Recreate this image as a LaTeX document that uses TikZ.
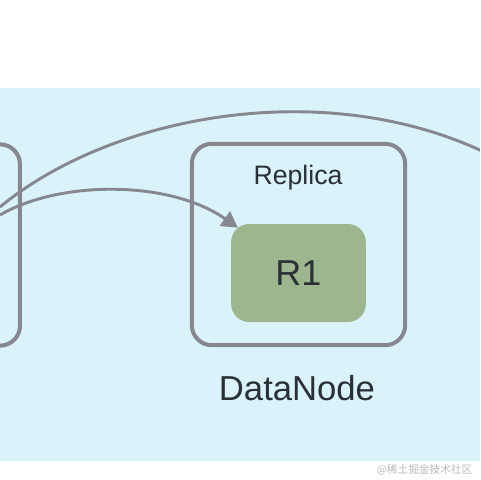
\documentclass[tikz,border=0pt]{standalone}
\usepackage{fontspec}
\setmainfont{Liberation Sans}
\newfontfamily\cjk{Noto Sans CJK SC}
\usetikzlibrary{arrows.meta}
\definecolor{panelblue}{HTML}{DAF3FA}
\definecolor{edgegray}{HTML}{86878F}
\definecolor{replgreen}{HTML}{9EB68D}
\definecolor{inkdark}{HTML}{2A3035}

\begin{document}
\begin{tikzpicture}[x=0.75pt, y=-0.75pt,
  box/.style = {draw=edgegray, line width=3pt, rounded corners=15pt,
    minimum width=160pt, minimum height=151pt},
  replica/.style = {fill=replgreen, rounded corners=13.5pt,
    minimum width=101pt, minimum height=73.5pt, text=inkdark,
    font=\fontsize{27}{30}\selectfont},
  label/.style = {text=inkdark, inner sep=0pt},
  link/.style = {draw=edgegray, line width=2.2pt}]
  \useasboundingbox (0,0) rectangle (480,480);
  \clip (0,0) rectangle (480,480);
  \fill[white] (0,0) rectangle (480,480);
  \fill[panelblue] (0,88) rectangle (480,461);
  % data nodes
  \node[box, minimum width=165pt] (dnleft) at (-90,245) {};
  \node[box] (dn) at (298.5,244.5) {};
  \node[replica] (r1) at (298.5,273) {R1};
  \node[label, font=\fontsize{20}{23}\selectfont] (repl) at (298,178) {Replica};
  \node[label, font=\fontsize{26}{30}\selectfont] (dnname) at (297,388) {DataNode};
  % connectors
  \coordinate (from1) at (0,215);
  \coordinate (from2) at (0,207);
  \coordinate (far) at (482,151);
  \draw[link, -{Triangle[length=12pt, width=13pt]}]
    (from1) .. controls (60,180) and (170,180) .. ([shift={(7,4)}]r1.north west);
  \draw[link] (from2) .. controls (110,116) and (320,76) .. (far);
  \node[anchor=east, text=gray!55, font=\cjk\fontsize{8}{10}\selectfont] (mark)
    at (477,470) {@稀土掘金技术社区};
\end{tikzpicture}
\end{document}
